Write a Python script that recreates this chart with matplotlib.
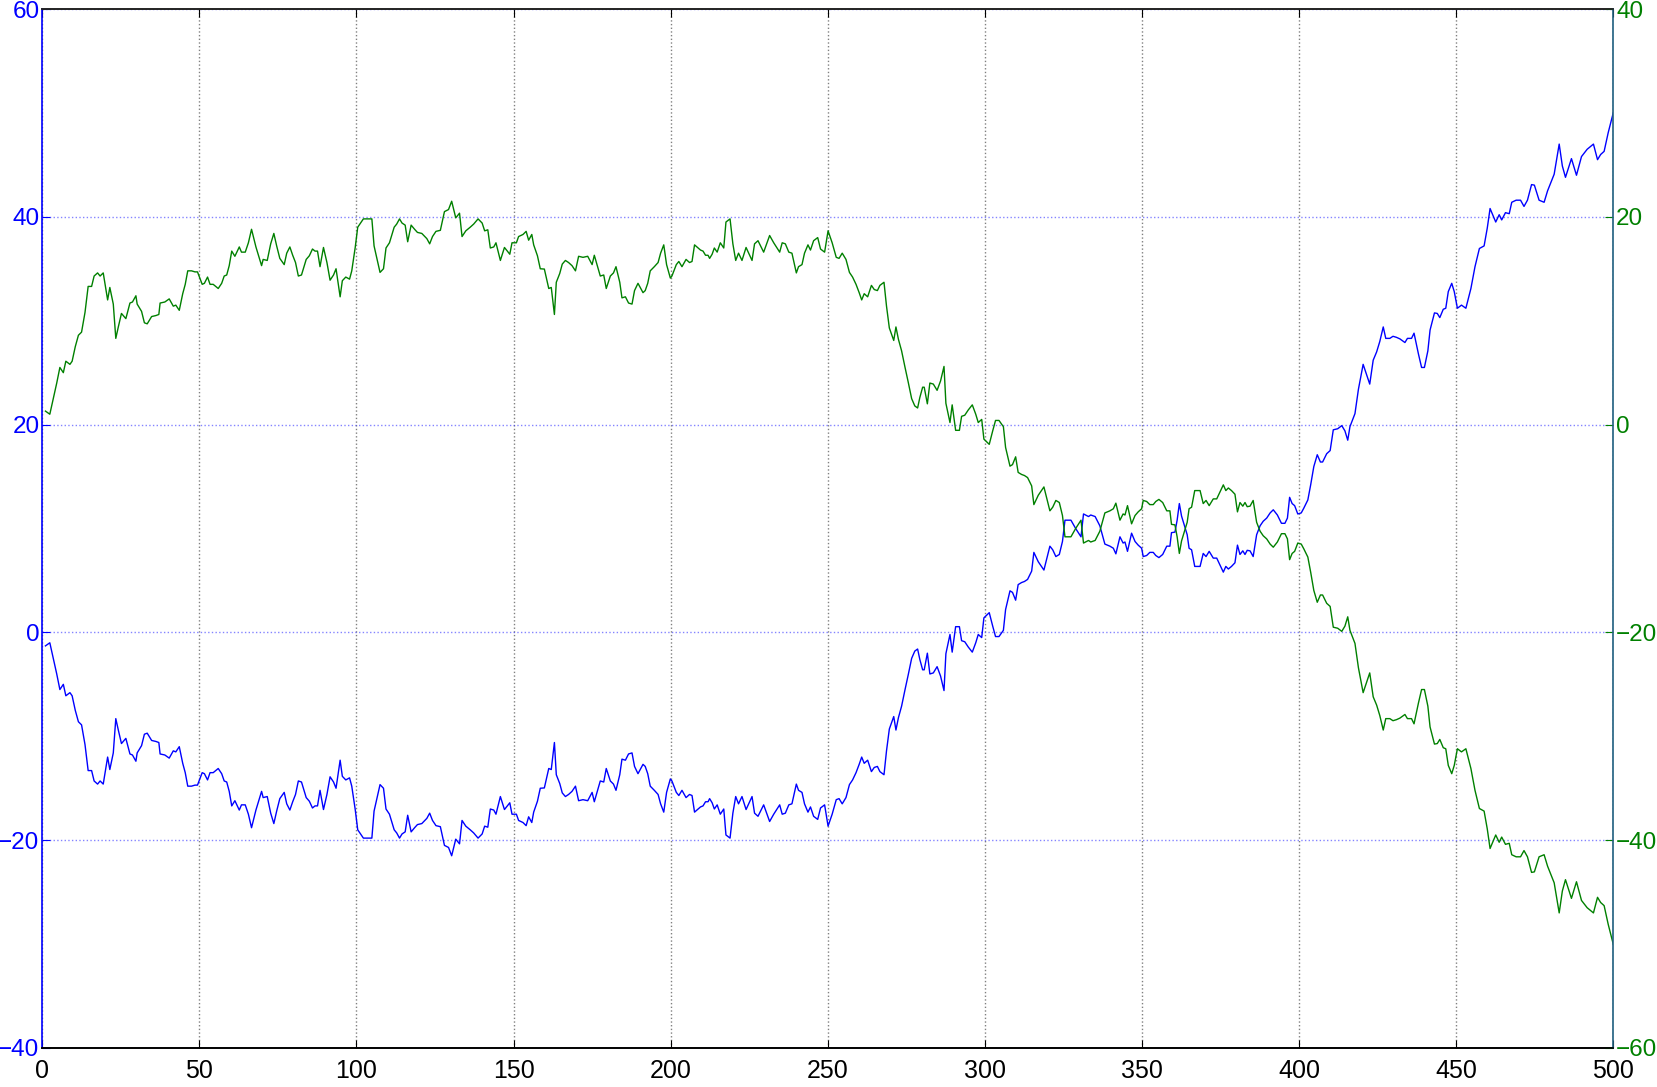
import matplotlib
matplotlib.use('Agg')
import matplotlib.pyplot as plt

plt.rcParams['font.family'] = ['Liberation Sans', 'DejaVu Sans']

# sample positions (x) of the two traces
x_pts = [
    1, 2.4, 3.5, 4.6, 5.6, 6.7, 7.5, 8.8, 9.5, 10.5, 11.5, 12.5, 13.6, 14.6, 15.7, 16.5, 17.6, 18.4, 19.4, 20.8,
    21.5, 22.6, 23.4, 24.2, 25.2, 26.6, 27.9, 28.7, 29.8, 30.2, 31.6, 32.5, 33.4, 34.8, 36.2, 37.1, 37.5, 39.0, 40.4, 41.7,
    42.5, 43.6, 44.7, 45.5, 46.3, 47.5, 48.6, 49.4, 50.9, 51.6, 52.6, 53.4, 54.4, 56.0, 57.1, 57.9, 58.7, 59.5, 60.3, 61.3,
    62.7, 63.4, 64.6, 65.6, 66.6, 68.0, 69.8, 70.3, 71.6, 72.7, 73.7, 74.6, 75.6, 77.0, 77.8, 78.8, 79.7, 80.6, 81.5, 82.5,
    84.0, 85.0, 86.0, 86.8, 87.6, 88.4, 89.5, 90.6, 91.6, 92.7, 93.5, 94.8, 95.5, 96.6, 97.8, 98.5, 99.6, 100.4, 102.2, 104.9,
    105.6, 107.5, 108.6, 109.4, 110.5, 112.0, 112.8, 113.7, 114.5, 115.5, 116.3, 117.4, 118.5, 119.4, 120.8, 122.4, 123.3, 124.2, 125.3, 126.7,
    128.0, 129.3, 130.3, 131.6, 132.8, 133.6, 134.8, 136.2, 137.3, 138.7, 140.0, 140.8, 141.8, 142.6, 143.7, 144.4, 145.8, 147.1, 148.8, 149.5,
    150.9, 151.6, 153.0, 154.0, 154.8, 155.8, 156.4, 157.6, 158.5, 159.8, 161.2, 162.0, 163.0, 163.6, 164.7, 165.5, 166.5, 167.5, 168.6, 169.7,
    170.7, 172.1, 173.6, 175.0, 175.7, 177.6, 178.7, 179.5, 180.8, 181.8, 182.6, 183.8, 184.5, 185.6, 186.6, 187.7, 188.5, 189.6, 191.2, 191.9,
    192.7, 193.5, 194.8, 196.0, 196.8, 197.8, 198.7, 199.9, 200.4, 201.8, 202.6, 203.6, 204.9, 206.0, 206.8, 207.6, 209.5, 210.3, 211.1, 211.9,
    212.4, 213.2, 213.9, 214.8, 215.8, 216.9, 217.6, 218.9, 219.8, 220.7, 221.6, 222.7, 224.0, 225.9, 226.7, 227.8, 229.6, 231.5, 232.8, 234.7,
    235.5, 236.5, 237.6, 238.6, 240.0, 240.7, 241.8, 242.6, 243.7, 244.5, 245.5, 246.8, 247.7, 249.0, 250.1, 251.4, 252.7, 253.6, 254.6, 255.8,
    256.9, 257.9, 259.0, 260.0, 260.8, 261.6, 262.7, 263.9, 264.8, 265.8, 266.6, 267.9, 268.7, 269.6, 271.0, 271.7, 272.5, 273.5, 274.6, 275.6,
    276.7, 277.7, 278.6, 279.3, 280.2, 280.7, 281.7, 282.5, 283.6, 284.8, 285.9, 287.0, 287.6, 288.9, 289.6, 290.7, 291.9, 292.6, 293.6, 294.7,
    296.0, 297.1, 297.9, 299.0, 299.7, 301.4, 302.5, 303.4, 304.5, 305.9, 306.6, 308.0, 308.8, 309.8, 310.6, 311.7, 312.6, 313.6, 314.9, 315.6,
    317.0, 318.8, 320.7, 321.6, 322.6, 323.7, 324.7, 325.5, 327.4, 328.9, 330.6, 331.4, 333.0, 333.7, 335.1, 336.6, 338.2, 339.8, 340.9, 341.7,
    343.0, 344.0, 344.6, 345.4, 346.7, 347.8, 348.8, 349.9, 350.4, 351.5, 352.5, 353.6, 354.4, 355.4, 356.6, 357.1, 357.9, 358.9, 359.4, 360.5,
    361.2, 361.9, 362.6, 363.7, 364.4, 365.0, 365.8, 366.8, 368.5, 369.5, 370.4, 371.4, 372.7, 373.8, 374.8, 375.9, 376.7, 377.5, 378.5, 379.6,
    380.4, 381.2, 382.1, 382.8, 383.5, 384.4, 385.4, 386.5, 387.6, 388.6, 389.7, 390.8, 391.8, 393.1, 394.4, 395.5, 396.3, 397.0, 397.8, 398.6,
    399.6, 400.7, 401.5, 402.8, 403.7, 404.7, 405.8, 406.8, 407.5, 408.8, 409.9, 410.9, 412.3, 413.6, 414.6, 415.5, 416.2, 417.8, 418.9, 420.4,
    421.5, 422.5, 423.6, 424.7, 425.7, 426.8, 427.6, 428.9, 429.9, 431.0, 432.1, 433.7, 434.5, 435.8, 436.6, 438.0, 439.0, 439.9, 441.0, 441.7,
    443.1, 444.0, 444.8, 445.9, 446.7, 447.5, 448.6, 449.4, 450.4, 451.7, 453.1, 454.7, 456.0, 457.4, 458.9, 459.9, 460.8, 462.6, 463.7, 464.5,
    465.7, 466.9, 467.7, 469.1, 470.5, 471.6, 472.7, 474.0, 474.9, 476.4, 478.0, 479.1, 481.2, 482.8, 483.8, 484.8, 486.7, 488.3, 489.9, 491.7,
    493.7, 495.0, 496.0, 497.1, 498.4, 500.0,
]

# blue trace, left axis
blue_vals = [
    -1.3, -1.0, -2.5, -4.0, -5.5, -5.0, -6.1, -5.8, -6.1, -7.5, -8.6, -8.9, -10.8, -13.3, -13.3, -14.3, -14.6, -14.3, -14.6, -12.0,
    -13.2, -11.6, -8.3, -9.4, -10.7, -10.2, -11.7, -11.8, -12.4, -11.6, -10.9, -9.8, -9.7, -10.4, -10.5, -10.6, -11.7, -11.8, -12.1, -11.4,
    -11.5, -11.0, -12.6, -13.5, -14.8, -14.8, -14.7, -14.7, -13.5, -13.6, -14.2, -13.5, -13.5, -13.1, -13.6, -14.3, -14.4, -15.3, -16.7, -16.2,
    -17.1, -16.6, -16.6, -17.5, -18.8, -17.1, -15.3, -15.9, -15.8, -17.4, -18.4, -17.2, -16.0, -15.4, -16.5, -17.1, -16.3, -15.6, -14.3, -14.4,
    -15.9, -16.25, -16.9, -16.7, -16.7, -15.2, -17.05, -15.6, -13.9, -14.4, -15.0, -12.3, -13.85, -14.2, -14.0, -14.8, -17.05, -19.0, -19.8, -19.8,
    -17.2, -14.65, -15.0, -17.0, -17.5, -19.0, -19.3, -19.8, -19.4, -19.2, -17.6, -19.2, -18.8, -18.5, -18.4, -17.9, -17.4, -18.1, -18.6, -18.7,
    -20.5, -20.7, -21.5, -19.9, -20.35, -18.1, -18.65, -19.0, -19.3, -19.8, -19.4, -18.65, -18.75, -17.0, -17.1, -17.5, -15.8, -17.05, -16.4, -17.5,
    -17.5, -18.1, -18.3, -18.6, -17.75, -18.3, -17.3, -16.25, -15.0, -14.97, -13.1, -13.2, -10.6, -13.7, -14.55, -15.45, -15.8, -15.6, -15.3, -14.8,
    -16.2, -16.1, -16.2, -15.4, -16.3, -14.3, -14.4, -13.1, -14.3, -14.6, -15.2, -13.7, -12.2, -12.3, -11.7, -11.6, -12.9, -13.6, -12.7, -12.9,
    -13.6, -14.8, -15.2, -15.6, -16.5, -17.3, -15.4, -14.1, -14.3, -15.4, -15.7, -15.2, -15.9, -15.6, -15.7, -17.3, -16.8, -16.7, -16.3, -16.3,
    -16.0, -16.4, -17.0, -16.6, -17.5, -17.0, -19.5, -19.8, -17.4, -15.8, -16.5, -15.8, -17.05, -15.8, -17.4, -17.7, -16.6, -18.2, -17.5, -16.6,
    -17.5, -17.4, -16.6, -16.5, -14.6, -15.2, -15.4, -16.5, -17.3, -16.8, -17.7, -18.0, -16.9, -16.6, -18.65, -17.5, -16.1, -16.0, -16.5, -15.9,
    -14.65, -14.2, -13.5, -12.7, -12.0, -12.6, -12.3, -13.4, -13.0, -12.9, -13.4, -13.7, -11.4, -9.3, -8.1, -9.4, -8.2, -7.1, -5.5, -4.1,
    -2.5, -1.8, -1.6, -2.6, -3.6, -3.6, -2.0, -4.0, -3.9, -3.3, -4.2, -5.6, -2.05, -0.2, -1.9, 0.55, 0.55, -0.8, -0.9, -1.4,
    -1.9, -1.0, -0.2, -0.5, 1.4, 1.9, 0.6, -0.4, -0.4, 0.2, 2.2, 4.0, 3.85, 3.1, 4.6, 4.8, 4.9, 5.1, 5.9, 7.7,
    6.8, 6.0, 8.3, 7.95, 7.3, 7.5, 8.75, 10.8, 10.8, 10.0, 9.2, 11.4, 11.15, 11.3, 11.15, 10.26, 8.5, 8.3, 8.1, 7.56,
    9.2, 8.6, 8.7, 7.8, 9.55, 8.75, 8.4, 8.1, 7.3, 7.4, 7.7, 7.7, 7.4, 7.2, 7.5, 7.8, 8.3, 8.3, 9.6, 9.65,
    10.8, 12.4, 11.2, 10.1, 9.4, 8.1, 7.95, 6.35, 6.35, 7.6, 7.3, 7.8, 7.15, 7.15, 6.5, 5.8, 6.35, 6.1, 6.35, 6.7,
    8.4, 7.5, 7.85, 7.5, 7.9, 7.85, 7.3, 9.4, 10.26, 10.7, 11.0, 11.5, 11.8, 11.3, 10.5, 10.5, 11.0, 13.0, 12.4, 12.2,
    11.4, 11.5, 11.95, 12.75, 14.2, 15.96, 17.1, 16.4, 16.4, 17.2, 17.5, 19.5, 19.6, 19.9, 19.4, 18.5, 19.8, 21.06, 23.4, 25.8,
    24.8, 23.9, 26.2, 27.0, 28.0, 29.4, 28.3, 28.3, 28.5, 28.4, 28.25, 27.9, 28.3, 28.3, 28.8, 26.8, 25.5, 25.5, 27.1, 29.1,
    30.75, 30.7, 30.3, 31.1, 31.2, 32.8, 33.6, 32.8, 31.2, 31.5, 31.2, 33.1, 35.2, 36.95, 37.2, 38.9, 40.8, 39.5, 40.2, 39.7,
    40.4, 40.3, 41.4, 41.6, 41.6, 41.0, 41.6, 43.1, 43.05, 41.6, 41.4, 42.5, 44.1, 47.0, 44.9, 43.8, 45.6, 44.0, 45.8, 46.5,
    47.0, 45.5, 46.0, 46.3, 48.1, 50.0,
]

# green trace, right axis
green_vals = [
    1.3, 1.0, 2.5, 4.0, 5.5, 5.0, 6.1, 5.8, 6.1, 7.5, 8.6, 8.9, 10.8, 13.3, 13.3, 14.3, 14.6, 14.3, 14.6, 12.0,
    13.2, 11.6, 8.3, 9.4, 10.7, 10.2, 11.7, 11.8, 12.4, 11.6, 10.9, 9.8, 9.7, 10.4, 10.5, 10.6, 11.7, 11.8, 12.1, 11.4,
    11.5, 11.0, 12.6, 13.5, 14.8, 14.8, 14.7, 14.7, 13.5, 13.6, 14.2, 13.5, 13.5, 13.1, 13.6, 14.3, 14.4, 15.3, 16.7, 16.2,
    17.1, 16.6, 16.6, 17.5, 18.8, 17.1, 15.3, 15.9, 15.8, 17.4, 18.4, 17.2, 16.0, 15.4, 16.5, 17.1, 16.3, 15.6, 14.3, 14.4,
    15.9, 16.25, 16.9, 16.7, 16.7, 15.2, 17.05, 15.6, 13.9, 14.4, 15.0, 12.3, 13.85, 14.2, 14.0, 14.8, 17.05, 19.0, 19.8, 19.8,
    17.2, 14.65, 15.0, 17.0, 17.5, 19.0, 19.3, 19.8, 19.4, 19.2, 17.6, 19.2, 18.8, 18.5, 18.4, 17.9, 17.4, 18.1, 18.6, 18.7,
    20.5, 20.7, 21.5, 19.9, 20.35, 18.1, 18.65, 19.0, 19.3, 19.8, 19.4, 18.65, 18.75, 17.0, 17.1, 17.5, 15.8, 17.05, 16.4, 17.5,
    17.5, 18.1, 18.3, 18.6, 17.75, 18.3, 17.3, 16.25, 15.0, 14.97, 13.1, 13.2, 10.6, 13.7, 14.55, 15.45, 15.8, 15.6, 15.3, 14.8,
    16.2, 16.1, 16.2, 15.4, 16.3, 14.3, 14.4, 13.1, 14.3, 14.6, 15.2, 13.7, 12.2, 12.3, 11.7, 11.6, 12.9, 13.6, 12.7, 12.9,
    13.6, 14.8, 15.2, 15.6, 16.5, 17.3, 15.4, 14.1, 14.3, 15.4, 15.7, 15.2, 15.9, 15.6, 15.7, 17.3, 16.8, 16.7, 16.3, 16.3,
    16.0, 16.4, 17.0, 16.6, 17.5, 17.0, 19.5, 19.8, 17.4, 15.8, 16.5, 15.8, 17.05, 15.8, 17.4, 17.7, 16.6, 18.2, 17.5, 16.6,
    17.5, 17.4, 16.6, 16.5, 14.6, 15.2, 15.4, 16.5, 17.3, 16.8, 17.7, 18.0, 16.9, 16.6, 18.65, 17.5, 16.1, 16.0, 16.5, 15.9,
    14.65, 14.2, 13.5, 12.7, 12.0, 12.6, 12.3, 13.4, 13.0, 12.9, 13.4, 13.7, 11.4, 9.3, 8.1, 9.4, 8.2, 7.1, 5.5, 4.1,
    2.5, 1.8, 1.6, 2.6, 3.6, 3.6, 2.0, 4.0, 3.9, 3.3, 4.2, 5.6, 2.05, 0.2, 1.9, -0.55, -0.55, 0.8, 0.9, 1.4,
    1.9, 1.0, 0.2, 0.5, -1.4, -1.9, -0.6, 0.4, 0.4, -0.2, -2.2, -4.0, -3.85, -3.1, -4.6, -4.8, -4.9, -5.1, -5.9, -7.7,
    -6.8, -6.0, -8.3, -7.95, -7.3, -7.5, -8.75, -10.8, -10.8, -10.0, -9.2, -11.4, -11.15, -11.3, -11.15, -10.26, -8.5, -8.3, -8.1, -7.56,
    -9.2, -8.6, -8.7, -7.8, -9.55, -8.75, -8.4, -8.1, -7.3, -7.4, -7.7, -7.7, -7.4, -7.2, -7.5, -7.8, -8.3, -8.3, -9.6, -9.65,
    -10.8, -12.4, -11.2, -10.1, -9.4, -8.1, -7.95, -6.35, -6.35, -7.6, -7.3, -7.8, -7.15, -7.15, -6.5, -5.8, -6.35, -6.1, -6.35, -6.7,
    -8.4, -7.5, -7.85, -7.5, -7.9, -7.85, -7.3, -9.4, -10.26, -10.7, -11.0, -11.5, -11.8, -11.3, -10.5, -10.5, -11.0, -13.0, -12.4, -12.2,
    -11.4, -11.5, -11.95, -12.75, -14.2, -15.96, -17.1, -16.4, -16.4, -17.2, -17.5, -19.5, -19.6, -19.9, -19.4, -18.5, -19.8, -21.06, -23.4, -25.8,
    -24.8, -23.9, -26.2, -27.0, -28.0, -29.4, -28.3, -28.3, -28.5, -28.4, -28.25, -27.9, -28.3, -28.3, -28.8, -26.8, -25.5, -25.5, -27.1, -29.1,
    -30.75, -30.7, -30.3, -31.1, -31.2, -32.8, -33.6, -32.8, -31.2, -31.5, -31.2, -33.1, -35.2, -36.95, -37.2, -38.9, -40.8, -39.5, -40.2, -39.7,
    -40.4, -40.3, -41.4, -41.6, -41.6, -41.0, -41.6, -43.1, -43.05, -41.6, -41.4, -42.5, -44.1, -47.0, -44.9, -43.8, -45.6, -44.0, -45.8, -46.5,
    -47.0, -45.5, -46.0, -46.3, -48.1, -50.0,
]

x_ticks = [0, 50, 100, 150, 200, 250, 300, 350, 400, 450, 500]
left_ticks = [-40, -20, 0, 20, 40, 60]
right_ticks = [-60, -40, -20, 0, 20, 40]

fig = plt.figure(figsize=(16.58, 10.87), dpi=100)
ax = fig.add_axes([0.0255, 0.0359, 0.9475, 0.9558])
ax2 = ax.twinx()

ax.plot(x_pts, blue_vals, color='#0000ff', lw=1.0)
ax2.plot(x_pts, green_vals, color='#008000', lw=1.0)

ax.set_xlim(0, 500)
ax.set_ylim(-40, 60)
ax2.set_ylim(-60, 40)
ax.set_xticks(x_ticks)
ax.set_yticks(left_ticks)
ax2.set_yticks(right_ticks)

# grid: grey dotted verticals, light blue dotted horizontals
ax.grid(axis='x', color='#808080', linestyle=':', lw=1.0)
ax.grid(axis='y', color='#3333ff', linestyle=':', lw=1.0, alpha=0.6)
ax.set_axisbelow(True)

ax.tick_params(axis='x', direction='in', length=6, top=True, labelsize=18,
               pad=8, colors='black')
ax.tick_params(axis='y', direction='in', length=6, labelsize=17.5, pad=2,
               colors='#0000ff')
ax2.tick_params(axis='y', direction='in', length=6, labelsize=17.5, pad=2,
                colors='#008000')

ax.spines['left'].set_color('#0000ff')
ax.spines['right'].set_visible(False)
ax2.spines['left'].set_visible(False)
ax2.spines['right'].set_color('#1f5f7f')
for a in (ax, ax2):
    a.spines['top'].set_color('#222222')
    a.spines['bottom'].set_color('black')
    for s in a.spines.values():
        s.set_linewidth(1.2)

fig.savefig('out.png', dpi=100)
